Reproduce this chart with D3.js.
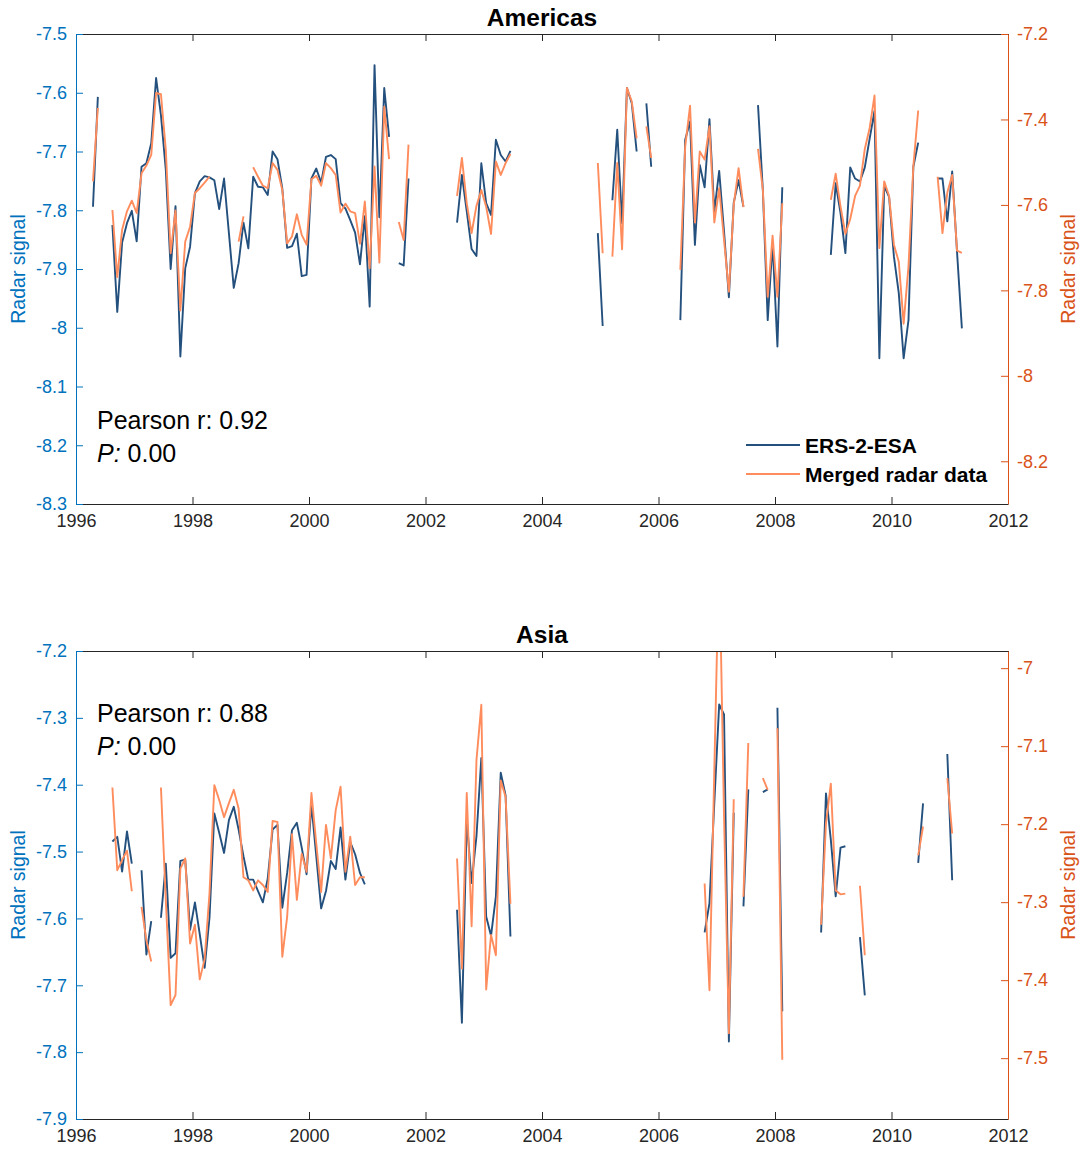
<!DOCTYPE html>
<html>
<head>
<meta charset="utf-8">
<script src="https://cdn.jsdelivr.net/npm/d3@7"></script>
<style>
  body { margin: 0; background: #fff; }
  svg text { font-family: "Liberation Sans", Arial, Helvetica, sans-serif; }
</style>
</head>
<body>
<svg id="chart" width="1080" height="1151"></svg>
<script>
// Monthly series, one row per year, index 0 = January 1996. null = no observation.
const firstYear = 1996;

const americasEsa = [
  null, null, null, -7.794, -7.607, null, null, -7.825, -7.973, -7.855, -7.822, -7.801,
  -7.853, -7.726, -7.720, -7.686, -7.575, -7.638, -7.731, -7.900, -7.793, -8.049, -7.899, -7.862,
  -7.771, -7.751, -7.742, -7.744, -7.749, -7.798, -7.746, -7.839, -7.932, -7.890, -7.821, -7.865,
  -7.743, -7.760, -7.761, -7.774, -7.700, -7.713, -7.763, -7.864, -7.861, -7.840, -7.912, -7.910,
  -7.746, -7.729, -7.753, -7.709, -7.706, -7.713, -7.788, -7.797, -7.817, -7.838, -7.892, -7.810,
  -7.964, -7.553, -7.812, -7.592, -7.675, null, -7.890, -7.894, -7.746, null, null, null,
  null, null, null, null, null, null, -7.821, -7.740, -7.802, -7.866, -7.878, -7.720,
  -7.788, -7.808, -7.680, -7.706, -7.717, -7.699, null, null, null, null, null, null,
  null, null, null, null, null, null, null, null, null, null, null, -7.839,
  -7.997, null, -7.783, -7.663, -7.822, -7.592, -7.618, -7.700, null, -7.618, -7.726, null,
  null, null, null, null, -7.987, -7.680, -7.649, -7.859, -7.723, -7.761, -7.645, -7.802,
  -7.733, -7.836, -7.948, -7.787, -7.749, -7.794, null, null, -7.621, -7.766, -7.987, -7.856,
  -8.032, -7.761, null, null, null, null, null, null, null, null, null, -7.876,
  -7.754, -7.805, -7.873, -7.727, -7.746, -7.751, -7.727, -7.678, -7.631, -8.052, -7.759, -7.777,
  -7.879, -7.941, -8.052, -7.987, -7.726, -7.685, null, null, null, -7.746, -7.746, -7.819,
  -7.734, -7.871, -8.001
];

const americasMerged = [
  null, null, null, -7.545, -7.373, null, null, -7.612, -7.769, -7.658, -7.615, -7.590,
  -7.619, -7.526, -7.508, -7.483, -7.338, -7.341, -7.471, -7.713, -7.613, -7.847, -7.686, -7.651,
  -7.572, -7.561, -7.548, -7.534, null, null, null, null, null, -7.686, -7.627, null,
  -7.512, -7.534, -7.555, -7.561, -7.502, -7.518, -7.565, -7.690, -7.674, -7.622, -7.670, -7.693,
  -7.540, -7.532, -7.555, -7.502, -7.514, -7.530, -7.618, -7.597, -7.615, -7.619, -7.691, -7.592,
  -7.748, -7.510, -7.735, -7.370, -7.493, null, -7.640, -7.682, -7.459, null, null, null,
  null, null, null, null, null, null, -7.579, -7.490, -7.596, -7.666, -7.602, -7.565,
  -7.604, -7.668, -7.498, -7.530, -7.502, -7.481, null, null, null, null, null, null,
  null, null, null, null, null, null, null, null, null, null, null, -7.502,
  -7.713, null, -7.721, -7.502, -7.704, -7.326, -7.358, -7.444, null, -7.416, -7.490, null,
  null, null, null, null, -7.752, -7.463, -7.368, -7.641, -7.475, -7.494, -7.416, -7.641,
  -7.561, -7.682, -7.803, -7.600, -7.514, -7.605, null, null, -7.469, -7.565, -7.815, -7.672,
  -7.815, -7.596, null, null, null, null, null, null, null, null, null, -7.588,
  -7.527, -7.604, -7.668, -7.633, -7.579, -7.555, -7.469, -7.420, -7.344, -7.701, -7.545, -7.579,
  -7.693, -7.733, -7.878, -7.744, -7.510, -7.379, null, null, null, -7.534, -7.666, -7.571,
  -7.530, -7.707, -7.712
];

const asiaEsa = [
  null, null, null, null, null, null, null, -7.485, -7.478, -7.530, -7.470, -7.518,
  null, -7.528, -7.654, -7.604, null, -7.599, -7.518, -7.659, -7.652, -7.514, -7.512, -7.617,
  -7.576, -7.624, -7.674, -7.599, -7.443, -7.472, -7.502, -7.453, -7.433, -7.467, -7.507, -7.542,
  -7.542, -7.559, -7.576, -7.540, -7.467, -7.460, -7.584, -7.532, -7.468, -7.457, -7.494, -7.534,
  -7.430, -7.507, -7.585, -7.559, -7.514, -7.526, -7.464, -7.542, -7.486, -7.504, -7.532, -7.549,
  null, null, null, null, null, null, null, null, null, null, null, null,
  null, null, null, null, null, null, -7.587, -7.756, -7.452, -7.547, -7.477, -7.360,
  -7.597, -7.626, -7.567, -7.382, -7.416, -7.627, null, null, null, null, null, null,
  null, null, null, null, null, null, null, null, null, null, null, null,
  null, null, null, null, null, null, null, null, null, null, null, null,
  null, null, null, null, null, null, null, null, null, -7.621, -7.577, -7.427,
  -7.280, -7.295, -7.784, -7.442, null, -7.582, -7.407, null, null, -7.411, -7.407, null,
  -7.285, -7.739, null, null, null, null, null, null, null, -7.621, -7.413, -7.482,
  -7.567, -7.494, -7.492, null, null, -7.628, -7.715, null, null, null, null, null,
  null, null, null, null, null, -7.517, -7.428, null, null, null, null, -7.354,
  -7.543
];

const asiaMerged = [
  null, null, null, null, null, null, null, -7.153, -7.259, -7.246, -7.234, -7.286,
  null, -7.306, -7.349, -7.376, null, -7.153, -7.297, -7.432, -7.419, -7.257, -7.244, -7.353,
  -7.329, -7.399, -7.373, -7.289, -7.150, -7.169, -7.191, -7.173, -7.156, -7.180, -7.268, -7.272,
  -7.285, -7.272, -7.278, -7.287, -7.196, -7.197, -7.370, -7.319, -7.213, -7.297, -7.238, -7.261,
  -7.160, -7.225, -7.287, -7.201, -7.244, -7.182, -7.152, -7.261, -7.216, -7.278, -7.268, -7.268,
  null, null, null, null, null, null, null, null, null, null, null, null,
  null, null, null, null, null, null, -7.244, -7.385, -7.160, -7.331, -7.118, -7.047,
  -7.412, -7.342, -7.368, -7.144, -7.165, -7.302, null, null, null, null, null, null,
  null, null, null, null, null, null, null, null, null, null, null, null,
  null, null, null, null, null, null, null, null, null, null, null, null,
  null, null, null, null, null, null, null, null, null, -7.276, -7.413, -7.130,
  -6.850, -7.190, -7.468, -7.168, null, -7.293, -7.096, null, null, -7.141, -7.156, null,
  -7.077, -7.502, null, null, null, null, null, null, null, -7.329, -7.199, -7.148,
  -7.285, -7.290, -7.289, null, null, -7.279, -7.368, null, null, null, null, null,
  null, null, null, null, null, -7.240, -7.203, null, null, null, null, -7.141,
  -7.212
];

// Axis ticks and limits
const yearTicks = [1996, 1998, 2000, 2002, 2004, 2006, 2008, 2010, 2012];
const americasLeftTicks = [-7.5, -7.6, -7.7, -7.8, -7.9, -8, -8.1, -8.2, -8.3];
const americasRightTicks = [-7.2, -7.4, -7.6, -7.8, -8, -8.2];
const asiaLeftTicks = [-7.2, -7.3, -7.4, -7.5, -7.6, -7.7, -7.8, -7.9];
const asiaRightTicks = [-7, -7.1, -7.2, -7.3, -7.4, -7.5];
const americasLeftRange = [-8.3, -7.5];
const americasRightRange = [-8.3, -7.2];
const asiaLeftRange = [-7.9, -7.2];
const asiaRightRange = [-7.578, -6.978];

const seriesNames = ["ERS-2-ESA", "Merged radar data"];

const COLORS = {
  leftAxis: "#0072BD",
  rightAxis: "#D95319",
  frame: "#262626",
  esa: "#24507E",
  merged: "#FF8C5C"
};

const svg = d3.select("#chart");
const left = 76, right = 1008;
const TICK_FONT = "18px";

const x = d3.scaleLinear().domain([1996, 2012]).range([left, right]);
const monthTime = i => firstYear + (i + 0.5) / 12;

function drawPanel(cfg) {
  const { top, bottom, id } = cfg;
  const yL = d3.scaleLinear().domain(cfg.leftRange).range([bottom, top]);
  const yR = d3.scaleLinear().domain(cfg.rightRange).range([bottom, top]);
  const g = svg.append("g");

  g.append("clipPath").attr("id", "clip-" + id)
    .append("rect").attr("x", left).attr("y", top)
    .attr("width", right - left).attr("height", bottom - top);

  const plot = g.append("g").attr("clip-path", `url(#clip-${id})`);

  const lineL = d3.line()
    .defined(d => d != null)
    .x((d, i) => x(monthTime(i)))
    .y(d => yL(d));
  const lineR = d3.line()
    .defined(d => d != null)
    .x((d, i) => x(monthTime(i)))
    .y(d => yR(d));

  plot.append("path").datum(cfg.esa)
    .attr("fill", "none").attr("stroke", COLORS.esa)
    .attr("stroke-width", 1.9).attr("stroke-linejoin", "round")
    .attr("d", lineL);
  plot.append("path").datum(cfg.merged)
    .attr("fill", "none").attr("stroke", COLORS.merged)
    .attr("stroke-width", 1.9).attr("stroke-linejoin", "round")
    .attr("d", lineR);

  // top frame with mirrored ticks
  const topAxis = g.append("g").attr("transform", `translate(0,${top})`)
    .call(d3.axisTop(x).tickValues(yearTicks).tickSize(-7).tickSizeOuter(0).tickFormat(""));
  topAxis.selectAll("line,path").attr("stroke", COLORS.frame);

  // bottom axis
  const bottomAxis = g.append("g").attr("transform", `translate(0,${bottom})`)
    .call(d3.axisBottom(x).tickValues(yearTicks).tickSize(-7).tickSizeOuter(0)
      .tickPadding(10).tickFormat(d3.format("d")));
  bottomAxis.selectAll("line,path").attr("stroke", COLORS.frame);
  bottomAxis.selectAll("text").attr("fill", COLORS.frame).style("font-size", TICK_FONT);

  // left axis
  const leftAxis = g.append("g").attr("transform", `translate(${left},0)`)
    .call(d3.axisLeft(yL).tickValues(cfg.leftTicks).tickSize(-7).tickSizeOuter(0)
      .tickPadding(9).tickFormat(d => String(d)));
  leftAxis.selectAll("line,path").attr("stroke", COLORS.leftAxis);
  leftAxis.selectAll("text").attr("fill", COLORS.leftAxis).style("font-size", TICK_FONT);

  // right axis
  const rightAxis = g.append("g").attr("transform", `translate(${right},0)`)
    .call(d3.axisRight(yR).tickValues(cfg.rightTicks).tickSize(-7).tickSizeOuter(0)
      .tickPadding(9).tickFormat(d => String(d)));
  rightAxis.selectAll("line,path").attr("stroke", COLORS.rightAxis);
  rightAxis.selectAll("text").attr("fill", COLORS.rightAxis).style("font-size", TICK_FONT);

  // y labels
  const midY = (top + bottom) / 2;
  g.append("text").attr("transform", `translate(25,${midY}) rotate(-90)`)
    .attr("text-anchor", "middle").attr("fill", COLORS.leftAxis)
    .style("font-size", "19.5px").text("Radar signal");
  g.append("text").attr("transform", `translate(1075,${midY}) rotate(-90)`)
    .attr("text-anchor", "middle").attr("fill", COLORS.rightAxis)
    .style("font-size", "19.5px").text("Radar signal");

  // title
  g.append("text").attr("x", (left + right) / 2).attr("y", top - 8)
    .attr("text-anchor", "middle").attr("fill", "#000")
    .style("font-size", "24.5px").style("font-weight", "bold").text(cfg.title);

  // statistics
  const stats = g.append("g").attr("fill", "#000").style("font-size", "25px");
  stats.append("text").attr("x", 97).attr("y", cfg.statsY).text(`Pearson r: ${cfg.r}`);
  const pLine = stats.append("text").attr("x", 97).attr("y", cfg.statsY + 33);
  pLine.append("tspan").style("font-style", "italic").text("P:");
  pLine.append("tspan").text(" " + cfg.p);

  return { g, yL, yR };
}

const am = drawPanel({
  id: "americas", title: "Americas", top: 34, bottom: 504,
  leftRange: americasLeftRange, rightRange: americasRightRange,
  leftTicks: americasLeftTicks, rightTicks: americasRightTicks,
  esa: americasEsa, merged: americasMerged,
  r: "0.92", p: "0.00", statsY: 429
});

drawPanel({
  id: "asia", title: "Asia", top: 651, bottom: 1119,
  leftRange: asiaLeftRange, rightRange: asiaRightRange,
  leftTicks: asiaLeftTicks, rightTicks: asiaRightTicks,
  esa: asiaEsa, merged: asiaMerged,
  r: "0.88", p: "0.00", statsY: 722
});

// legend in the Americas panel
const legend = am.g.append("g");
[COLORS.esa, COLORS.merged].forEach((c, i) => {
  const ly = 445 + i * 29;
  legend.append("line").attr("x1", 746).attr("x2", 800).attr("y1", ly).attr("y2", ly)
    .attr("stroke", c).attr("stroke-width", 1.9);
  legend.append("text").attr("x", 805).attr("y", ly + 7.5)
    .attr("fill", "#000").style("font-size", "21px").style("font-weight", "bold")
    .text(seriesNames[i]);
});
</script>
</body>
</html>
